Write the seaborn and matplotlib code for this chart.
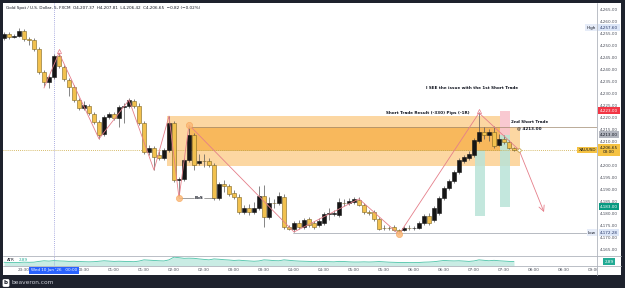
import numpy as np
import pandas as pd
import matplotlib
matplotlib.use("Agg")
import matplotlib.pyplot as plt
import seaborn as sns
from matplotlib.patches import Rectangle
from matplotlib.lines import Line2D
from matplotlib.transforms import blended_transform_factory

# ---------------------------
# data: XAUUSD 5m, FXCM
# ---------------------------
first_bar = "2026-06-09 23:10"
session_day = "2026-06-10 00:00"

opens = [4253.3, 4255.0, 4253.8, 4254.2, 4256.3, 4252.9, 4252.5, 4248.8, 4239.2, 4235.0,
         4237.1, 4245.8, 4241.3, 4235.8, 4232.9, 4227.5, 4224.2, 4225.0, 4221.7, 4218.3,
         4213.3, 4220.4, 4221.7, 4220.0, 4224.6, 4225.0, 4227.1, 4225.0, 4217.9, 4205.8,
         4207.5, 4204.6, 4203.3, 4206.7, 4217.9, 4194.2, 4194.6, 4202.5, 4212.9, 4201.3,
         4202.1, 4202.1, 4200.4, 4186.7, 4192.5, 4191.7, 4188.8, 4187.1, 4180.8, 4182.5,
         4180.8, 4182.5, 4187.5, 4178.8, 4184.6, 4184.6, 4187.1, 4174.6, 4173.8, 4176.3,
         4174.6, 4177.9, 4176.3, 4175.4, 4176.3, 4180.0, 4180.0, 4179.6, 4184.6, 4184.6,
         4185.0, 4185.8, 4183.8, 4180.8, 4180.8, 4177.9, 4174.2, 4174.2, 4174.6, 4173.0,
         4173.3, 4174.2, 4174.0, 4174.2, 4176.3, 4179.2, 4177.5, 4180.4, 4186.7, 4190.8,
         4193.8, 4197.5, 4202.1, 4203.3, 4204.6, 4210.4, 4214.2, 4212.9, 4214.2, 4208.8,
         4211.3, 4210.0, 4207.37]
highs = [4255.8, 4255.8, 4255.0, 4257.6, 4257.1, 4253.8, 4253.3, 4249.6, 4240.0, 4238.0,
         4246.7, 4247.1, 4242.0, 4236.7, 4233.8, 4228.3, 4227.1, 4225.8, 4222.5, 4219.2,
         4221.3, 4222.5, 4222.5, 4225.4, 4226.3, 4228.3, 4227.9, 4226.3, 4218.8, 4208.8,
         4208.3, 4206.3, 4207.5, 4220.8, 4218.8, 4195.4, 4203.3, 4217.1, 4213.8, 4205.0,
         4205.0, 4203.3, 4201.3, 4193.3, 4194.2, 4192.5, 4190.0, 4188.3, 4183.8, 4184.2,
         4185.0, 4191.7, 4192.1, 4187.1, 4186.3, 4189.2, 4188.3, 4175.4, 4177.1, 4177.5,
         4178.3, 4178.8, 4177.1, 4178.3, 4180.8, 4182.5, 4181.7, 4186.7, 4186.3, 4186.7,
         4187.1, 4187.1, 4184.6, 4181.7, 4181.7, 4178.8, 4175.4, 4175.0, 4175.4, 4173.8,
         4175.0, 4175.4, 4175.0, 4177.1, 4180.0, 4180.4, 4183.3, 4187.5, 4191.7, 4194.6,
         4198.3, 4203.3, 4204.6, 4206.3, 4211.7, 4222.5, 4216.3, 4215.4, 4216.7, 4213.3,
         4212.9, 4210.8, 4207.81]
lows = [4252.5, 4253.0, 4253.3, 4253.8, 4252.1, 4250.4, 4248.0, 4238.3, 4233.3, 4232.5,
        4236.3, 4241.0, 4235.4, 4229.2, 4226.7, 4223.3, 4223.3, 4221.3, 4217.5, 4211.3,
        4212.5, 4219.6, 4219.2, 4216.3, 4217.9, 4224.2, 4224.2, 4217.1, 4205.0, 4204.6,
        4198.3, 4202.5, 4202.5, 4205.8, 4193.3, 4187.5, 4193.8, 4201.7, 4198.3, 4200.4,
        4199.6, 4199.6, 4185.8, 4185.8, 4189.2, 4187.5, 4186.3, 4180.0, 4180.0, 4179.6,
        4180.0, 4181.7, 4174.6, 4177.9, 4182.5, 4183.8, 4173.8, 4173.3, 4172.5, 4173.8,
        4173.8, 4174.6, 4173.8, 4174.6, 4175.4, 4177.5, 4179.2, 4178.8, 4183.3, 4183.8,
        4184.2, 4183.3, 4180.0, 4179.6, 4177.1, 4173.3, 4173.3, 4173.3, 4172.9, 4172.28,
        4172.9, 4173.3, 4173.3, 4173.8, 4175.4, 4175.4, 4176.7, 4179.6, 4185.8, 4190.0,
        4192.9, 4196.7, 4201.3, 4202.5, 4203.8, 4209.6, 4211.3, 4210.4, 4207.5, 4208.3,
        4209.2, 4207.0, 4206.42]
closes = [4255.0, 4253.8, 4254.2, 4256.3, 4252.9, 4252.6, 4248.8, 4239.2, 4235.0, 4237.1,
          4245.8, 4241.7, 4236.3, 4232.9, 4227.5, 4224.2, 4225.4, 4222.1, 4218.3, 4212.9,
          4220.4, 4221.7, 4220.0, 4224.6, 4225.0, 4227.5, 4225.0, 4217.9, 4205.8, 4207.5,
          4203.8, 4203.3, 4206.7, 4217.9, 4194.2, 4194.6, 4202.5, 4212.9, 4200.4, 4202.1,
          4201.9, 4200.4, 4186.7, 4192.5, 4191.7, 4188.3, 4187.1, 4180.8, 4182.5, 4180.8,
          4182.5, 4187.5, 4178.8, 4184.6, 4184.4, 4187.5, 4174.6, 4173.8, 4176.3, 4174.6,
          4177.5, 4175.4, 4174.6, 4177.1, 4180.0, 4180.2, 4180.6, 4185.0, 4184.4, 4185.4,
          4186.3, 4183.8, 4180.8, 4180.6, 4177.9, 4173.8, 4174.0, 4174.0, 4173.3, 4172.9,
          4174.2, 4174.0, 4174.2, 4176.3, 4179.2, 4176.3, 4182.5, 4186.7, 4190.8, 4193.8,
          4197.5, 4202.5, 4203.8, 4205.0, 4210.8, 4214.2, 4212.9, 4214.2, 4208.3, 4211.3,
          4210.0, 4207.4, 4206.65]
atr = [2.4, 2.3, 2.2, 2.3, 2.5, 2.4, 2.5, 3.0,
       3.4, 3.2, 3.5, 3.3, 3.2,
       3.0, 3.1, 2.9, 2.8, 2.7, 2.8, 3.1,
       3.4, 3.2, 3.0, 3.1, 3.0, 2.9, 2.8, 3.2,
       4.0, 3.8, 3.6, 3.4, 3.3, 4.0,
       5.8, 5.4, 5.0, 5.1, 5.0, 4.6, 4.3, 4.0,
       4.6, 4.4, 4.1, 3.9, 3.6, 3.8, 3.5, 3.3, 3.1, 3.3,
       4.0, 3.8, 3.5, 3.4, 4.0, 3.7,
       3.4, 3.2, 3.1, 3.0, 2.9, 2.8, 2.9, 2.8, 2.7, 3.0, 2.9, 2.7, 2.6,
       2.6, 2.7, 2.6, 2.7, 2.9, 2.7, 2.5, 2.4, 2.3, 2.3, 2.2, 2.2,
       2.3, 2.5, 2.6, 2.8, 3.2, 3.6, 3.4, 3.3, 3.4, 3.2, 3.0, 3.3,
       4.0, 3.7, 3.4, 3.7, 3.4, 3.2, 3.0, 2.89]

# zigzag swing points
zz_times = ["23:50", "00:05", "00:45", "01:15", "01:40", "01:55", "02:05", "02:15",
            "04:00", "05:05", "05:45", "07:05", "07:45", "08:10"]
zz_prices = [4232.5, 4247.1, 4211.3, 4227.5, 4198.3, 4220.8, 4186.7, 4217.1,
             4172.5, 4186.3, 4171.5, 4222.1, 4206.7, 4180.8]

time_labels = ["23:30", "00:30", "01:00", "01:30", "02:00", "02:30", "03:00", "03:30",
               "04:00", "04:30", "05:00", "05:30", "06:00", "06:30", "07:00", "07:30",
               "08:00", "08:30", "09:00"]

last_price = 4206.65
day_high = 4257.60
day_low = 4172.28
stop_loss = 4223.00
entry_2 = 4213.00
take_profit = 4183.00
zone_outer = (4200.0, 4220.8)
zone_inner = (4206.7, 4216.25)
header = ("Gold Spot / U.S. Dollar, 5, FXCM  O4,207.37  H4,207.81  L4,206.42  "
          "C4,206.65  \u22120.82 (\u22120.02%)")


def to_min(hhmm):
    h, m = map(int, hhmm.split(":"))
    v = h * 60 + m
    return v - 1440 if h >= 12 else v


t = ((pd.date_range(first_bar, periods=len(opens), freq="5min")
      - pd.Timestamp(session_day)).total_seconds() / 60).values
o, h, l, c = map(np.array, (opens, highs, lows, closes))

# ---------------------------
# figure & panels
# ---------------------------
sns.set_style("white")
plt.rcParams["font.family"] = ["DejaVu Sans"]
W, H = 625, 288
fig = plt.figure(figsize=(W / 100, H / 100), dpi=100, facecolor="#1e222d")


def fx(x):
    return x / W


def fy(y):
    return 1 - y / H


fig.patches.append(Rectangle((fx(3), fy(275)), fx(618), 272 / H, transform=fig.transFigure,
                             facecolor="white", edgecolor="none", zorder=-1))

ax = fig.add_axes([fx(3), fy(256), fx(594), 253 / H])
ax2 = fig.add_axes([fx(3), fy(266), fx(594), 10 / H])
for a in (ax, ax2):
    for s in a.spines.values():
        s.set_visible(False)
    a.set_xlim(-51, 543)

ax.set_ylim(4162.5, 4267.9)
ax2.set_ylim(0, 6.5)

# ---------------------------
# zones / trade boxes
# ---------------------------
ax.add_patch(Rectangle((113, zone_outer[0]), 333, zone_outer[1] - zone_outer[0],
                       facecolor="#fcd7a2", edgecolor="none", zorder=1))
ax.add_patch(Rectangle((135, zone_inner[0]), 311, zone_inner[1] - zone_inner[0],
                       facecolor="#f8b85c", edgecolor="none", zorder=1.1))
ax.add_patch(Rectangle((446, zone_outer[0]), 20, zone_inner[1] - zone_outer[0],
                       facecolor="#fcd7a2", edgecolor="none", zorder=1))
ax.add_patch(Rectangle((446, entry_2), 10, stop_loss - entry_2,
                       facecolor="#f9c4cc", edgecolor="none", alpha=0.9, zorder=1.2))
ax.add_patch(Rectangle((446, take_profit), 10, entry_2 - take_profit,
                       facecolor="#b9e3d8", edgecolor="none", alpha=0.85, zorder=1.2))
ax.add_patch(Rectangle((421, 4179.2), 10, 4206.7 - 4179.2,
                       facecolor="#b9e3d8", edgecolor="none", alpha=0.85, zorder=1.2))

ax.plot([135, 543], [zone_inner[1]] * 2, color="#a08a70", lw=0.5, zorder=1.5)
ax.plot([135, 446], [zone_inner[0]] * 2, color="#d9a040", lw=0.4, zorder=1.5)
ax.plot([239, 543], [day_low] * 2, color="#9aa0aa", lw=0.5, zorder=1.5)
ax.axhline(last_price, color="#c9a63a", lw=0.6, ls=(0, (1, 1.5)), zorder=1.6)
for a in (ax, ax2):
    a.axvline(0, color="#8f93d6", lw=0.6, ls=(0, (1, 1.5)), zorder=1.6)

# ---------------------------
# candles
# ---------------------------
up = c >= o
face = np.where(up, "#151515", "#f2c14e")
edge = np.where(up, "#151515", "#7d6420")
ax.vlines(t, l, h, color="#555555", lw=0.5, zorder=3)
ax.bar(t, np.maximum(np.abs(c - o), 0.3), bottom=np.minimum(o, c), width=3.6,
       color=face, edgecolor=edge, linewidth=0.4, zorder=4)

# zigzag
zz_t = [to_min(s) for s in zz_times]
sns.lineplot(x=zz_t[:-1], y=zz_prices[:-1], ax=ax, sort=False, color="#e57f8a",
             lw=0.6, zorder=5)
ax.annotate("", xy=(zz_t[-1], zz_prices[-1]), xytext=(zz_t[-2], zz_prices[-2]),
            arrowprops=dict(arrowstyle="->", color="#e57f8a", lw=0.6,
                            shrinkA=0, shrinkB=0), zorder=5)
for i in (6, 7, 10):
    ax.plot(zz_t[i], zz_prices[i], "o", ms=4.5, mfc="#fbb978", mec="#f5a050",
            mew=0.4, alpha=0.85, zorder=6)
for i in (1, 11):
    ax.plot(zz_t[i], zz_prices[i] + 0.6, "^", ms=3, mfc="none", mec="#e57f8a",
            mew=0.5, zorder=6)
ax.plot(465, last_price, "o", ms=2.5, mfc="white", mec="#b8962e", mew=0.5, zorder=6)

# ---------------------------
# text annotations
# ---------------------------
txt = dict(fontsize=3, color="#131722", fontweight="bold", va="center", zorder=7)
ax.text(418, 4232.5, "I SEE the issue with the 1st Short Trade", ha="center", **txt)
ax.text(374, 4222.1, "Short Trade Result (-330) Pips (-1R)", ha="center", **txt)
ax.text(457, 4218.4, "2nd Short Trade", ha="left", **txt)
ax.text(463, 4215.6, "@ 4213.00", ha="left", **txt)
ax.text(145, 4186.7, "BoS", ha="center", **txt)
ax.plot([125, 140], [4186.7] * 2, color="#555555", lw=0.4, zorder=5)
ax.plot([150, 160], [4186.7] * 2, color="#555555", lw=0.4, zorder=5)

# ---------------------------
# price scale (4,205 sits under the last-price tag)
# ---------------------------
ticks = [v for v in range(4165, 4270, 5) if v != 4205]
ax.set_yticks(ticks)
ax.set_yticklabels([f"{v:,.2f}" for v in ticks])
ax.yaxis.tick_right()
ax.tick_params(axis="y", length=0, pad=2.2, labelsize=3, labelcolor="#4a4e5a")
ax.set_xticks([])

tr = blended_transform_factory(ax.transAxes, ax.transData)
xc = (609 - 3) / 594


def tag(p, s, fc, tc, a=ax, trans=tr):
    a.text(xc, p, s, transform=trans, ha="center", va="center", fontsize=3,
           color=tc, zorder=8, clip_on=False,
           bbox=dict(boxstyle="square,pad=0.35", fc=fc, ec="none"))


tag(day_high, f"{day_high:,.2f}", "#dce6f7", "#2a3a6a")
tag(stop_loss, f"{stop_loss:,.2f}", "#f23645", "white")
tag(entry_2, f"{entry_2:,.2f}", "#b2b5be", "#131722")
tag(last_price, f"{last_price:,.2f}\n03:00", "#f5c242", "#131722")
tag(take_profit, f"{take_profit:,.2f}", "#089981", "white")
tag(day_low, f"{day_low:,.2f}", "#dce6f7", "#2a3a6a")
for p, s, bg in ((day_high, "High", "#e6ecf8"), (day_low, "Low", "#e6ecf8"),
                 (last_price, "XAUUSD", "#f5c242")):
    ax.text((596 - 3) / 594, p, s, transform=tr, ha="right", va="center", fontsize=3,
            color="#131722", zorder=8, clip_on=False,
            bbox=dict(boxstyle="square,pad=0.3", fc=bg, ec="none"))

# ---------------------------
# ATR panel + time scale
# ---------------------------
sns.lineplot(x=t, y=atr, ax=ax2, color="#4cc3a8", lw=0.6)
ax2.fill_between(t, 0, atr, color="#4cc3a8", alpha=0.3, lw=0)
ax2.set_yticks([])
ax2.set_xticks([to_min(s) for s in time_labels])
ax2.set_xticklabels(time_labels)
ax2.tick_params(axis="x", length=0, pad=1.6, labelsize=3, labelcolor="#4a4e5a")
ax2.text(0.006, 0.62, "ATR", transform=ax2.transAxes, fontsize=3, color="#131722",
         va="center")
ax2.text(0.026, 0.62, f"{atr[-1]:.2f}", transform=ax2.transAxes, fontsize=3,
         color="#22ab94", va="center")
tr2 = blended_transform_factory(ax2.transAxes, ax2.transData)
tag(atr[-1], f"{atr[-1]:.2f}", "#22ab94", "white", a=ax2, trans=tr2)
ax2.text(0, -0.42, "Wed 10 Jun '26   00:00",
         transform=blended_transform_factory(ax2.transData, ax2.transAxes),
         ha="center", va="center", fontsize=3, color="white", zorder=10, clip_on=False,
         bbox=dict(boxstyle="square,pad=0.4", fc="#2962ff", ec="none"))

# separators / frame pieces
fig.patches.append(Rectangle((fx(597.5), fy(275)), fx(23.5), 8.5 / H,
                             transform=fig.transFigure, facecolor="white",
                             edgecolor="none", zorder=4))
for (x0, y0, x1, y1) in ((597, 3, 597, 275), (3, 256, 621, 256), (3, 266, 621, 266)):
    fig.add_artist(Line2D([fx(x0), fx(x1)], [fy(y0), fy(y1)], color="#b0b4bd",
                          lw=0.6, zorder=5))

# header & footer
fig.text(fx(6), fy(8), header, fontsize=3, color="#131722", va="center")
fig.text(fx(6), fy(283), "b", fontsize=4, color="#131722", va="center", ha="center",
         fontweight="bold", bbox=dict(boxstyle="round,pad=0.25", fc="white", ec="none"))
fig.text(fx(12), fy(283), "beaveron.com", fontsize=4.2, color="#c9ccd4", va="center")

fig.savefig("out.png", dpi=100, facecolor=fig.get_facecolor())
